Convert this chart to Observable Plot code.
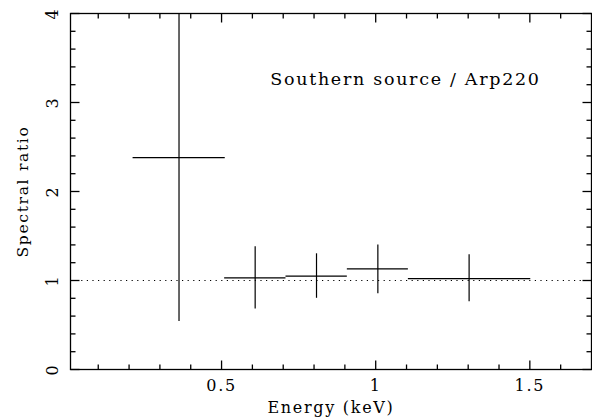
<!DOCTYPE html>
<html>
<head>
<meta charset="utf-8">
<script src="https://cdn.jsdelivr.net/npm/d3@7"></script>
<script src="https://cdn.jsdelivr.net/npm/@observablehq/plot@0.6"></script>
<style>
  html, body { margin: 0; padding: 0; background: #fff; }
  #chart { width: 592px; height: 417px; }
  svg { display: block; }
  svg text { letter-spacing: 1.7px; }
</style>
</head>
<body>
<div id="chart"></div>
<script>
// Energy bins (keV) and spectral ratio values
const binLow   = [0.213, 0.510, 0.709, 0.908, 1.106];
const binHigh  = [0.512, 0.709, 0.908, 1.106, 1.503];
const binMid   = [0.362, 0.609, 0.808, 1.007, 1.303];
const ratio    = [2.38, 1.03, 1.05, 1.13, 1.02];
const errLow   = [0.54, 0.68, 0.80, 0.85, 0.76];
const errHigh  = [4.6, 1.38, 1.30, 1.40, 1.29];

const xMajor = [0.5, 1, 1.5];
const xMinor = [0.1,0.2,0.3,0.4,0.6,0.7,0.8,0.9,1.1,1.2,1.3,1.4,1.6];
const yMajor = [0, 1, 2, 3, 4];
const yMinor = [0.2,0.4,0.6,0.8,1.2,1.4,1.6,1.8,2.2,2.4,2.6,2.8,3.2,3.4,3.6,3.8];
const referenceLevel = [1];
const annotation = ["Southern source / Arp220"];
const xTitle = "Energy (keV)";
const yTitle = "Spectral ratio";

const data = binMid.map((m, i) => ({
  mid: m, lo: binLow[i], hi: binHigh[i], r: ratio[i], eLo: errLow[i], eHi: errHigh[i]
}));

const font = "'DejaVu Serif', 'Liberation Serif', serif";

const W = 592, H = 417, mL = 70, mR = 1, mT = 13, mB = 48;
const plotW = W - mL - mR, plotH = H - mT - mB;
const xDomain = [0.01, 1.7], yDomain = [0, 4];
// convert a tick length in pixels to data units
const pxX = (xDomain[1] - xDomain[0]) / plotW;
const pxY = (yDomain[1] - yDomain[0]) / plotH;

const tickStyle = { stroke: "#000", strokeWidth: 1.3 };
const ticksBottom = (v, len) => Plot.link(v, { x1: d => d, x2: d => d, y1: yDomain[0], y2: yDomain[0] + len * pxY, ...tickStyle });
const ticksTop    = (v, len) => Plot.link(v, { x1: d => d, x2: d => d, y1: yDomain[1], y2: yDomain[1] - len * pxY, ...tickStyle });
const ticksLeft   = (v, len) => Plot.link(v, { y1: d => d, y2: d => d, x1: xDomain[0], x2: xDomain[0] + len * pxX, ...tickStyle });
const ticksRight  = (v, len) => Plot.link(v, { y1: d => d, y2: d => d, x1: xDomain[1], x2: xDomain[1] - len * pxX, ...tickStyle });

const chart = Plot.plot({
  width: W,
  height: H,
  marginLeft: mL,
  marginRight: mR,
  marginTop: mT,
  marginBottom: mB,
  style: { fontFamily: font, color: "#000", background: "#fff" },
  x: { domain: xDomain, axis: null },
  y: { domain: yDomain, axis: null },
  marks: [
    // reference line
    Plot.ruleY(referenceLevel, { stroke: "#000", strokeWidth: 1, strokeDasharray: "1.2,4.4" }),
    // horizontal bin widths
    Plot.ruleY(data, { y: "r", x1: "lo", x2: "hi", stroke: "#000", strokeWidth: 1.2, clip: true }),
    // vertical error bars
    Plot.ruleX(data, { x: "mid", y1: "eLo", y2: "eHi", stroke: "#000", strokeWidth: 1.2, clip: true }),
    // inward ticks, all four sides
    ticksBottom(xMajor, 9), ticksBottom(xMinor, 5),
    ticksTop(xMajor, 9), ticksTop(xMinor, 5),
    ticksLeft(yMajor, 9), ticksLeft(yMinor, 5),
    ticksRight(yMajor, 9), ticksRight(yMinor, 5),
    // tick labels
    Plot.text(xMajor, { x: d => d, text: d => String(d), frameAnchor: "bottom", textAnchor: "middle", dy: 21, fontSize: 16, fill: "#000" }),
    Plot.text(yMajor, { y: d => d, text: d => String(d), frameAnchor: "left", textAnchor: "middle", dx: -18, rotate: -90, fontSize: 16, fill: "#000" }),
    // axis titles
    Plot.text([xTitle], { text: d => d, frameAnchor: "bottom", textAnchor: "middle", dy: 43, fontSize: 16, fill: "#000" }),
    Plot.text([yTitle], { text: d => d, frameAnchor: "left", textAnchor: "middle", dx: -47, rotate: -90, fontSize: 15.5, fill: "#000" }),
    // annotation
    Plot.text(annotation, { x: 0.658, y: 3.2, text: d => d, textAnchor: "start", lineAnchor: "bottom", fontSize: 17.5, fill: "#000" }),
    Plot.frame({ stroke: "#000", strokeWidth: 1.3 })
  ]
});

document.getElementById("chart").appendChild(chart);
</script>
</body>
</html>
